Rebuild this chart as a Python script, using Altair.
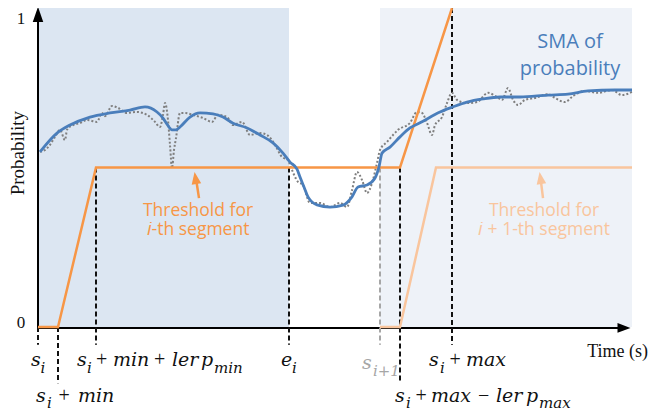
import altair as alt
import pandas as pd

# ---------------- data (time units, probability) ----------------
sma_t = [2, 19, 32, 52, 72, 92, 107, 119, 125, 129, 134, 138, 142, 152, 162, 175, 185, 195, 209, 222,
         235, 245, 252, 259, 262, 266, 270, 279, 292, 305, 314, 320, 329, 337, 341, 344, 352, 362, 372,
         382, 402, 415, 429, 445, 462, 482, 510, 530, 550, 577, 594]
sma_p = [0.549, 0.608, 0.633, 0.658, 0.671, 0.680, 0.690, 0.674, 0.655, 0.636, 0.618, 0.618, 0.627, 0.658,
         0.671, 0.668, 0.658, 0.639, 0.624, 0.602, 0.577, 0.545, 0.517, 0.495, 0.470, 0.439, 0.408, 0.383,
         0.376, 0.382, 0.408, 0.439, 0.445, 0.467, 0.502, 0.545, 0.564, 0.596, 0.624, 0.640, 0.674, 0.690,
         0.705, 0.715, 0.721, 0.721, 0.727, 0.730, 0.740, 0.743, 0.743]

raw_t = [2, 7, 12, 17, 22, 27, 29, 35, 42, 49, 59, 64, 67, 74, 80, 89, 99, 109, 117, 122, 125, 127, 130,
         132, 134, 136, 138, 142, 147, 155, 165, 174, 180, 189, 195, 204, 212, 222, 229, 237, 244, 250, 252,
         260, 265, 272, 282, 292, 302, 309, 314, 319, 324, 329, 334, 339, 342, 349, 355, 360, 372, 379, 384,
         389, 394, 397, 404, 409, 414, 419, 429, 439, 450, 459, 464, 470, 475, 480, 487, 497, 510, 517, 527,
         535, 547, 560, 574, 584, 594]
raw_p = [0.549, 0.555, 0.571, 0.596, 0.618, 0.586, 0.618, 0.633, 0.639, 0.649, 0.643, 0.671, 0.661, 0.693,
         0.687, 0.671, 0.674, 0.665, 0.643, 0.627, 0.665, 0.702, 0.649, 0.571, 0.498, 0.555, 0.592, 0.671,
         0.671, 0.665, 0.655, 0.643, 0.665, 0.658, 0.633, 0.643, 0.602, 0.608, 0.602, 0.571, 0.533, 0.524,
         0.508, 0.455, 0.445, 0.389, 0.389, 0.376, 0.389, 0.376, 0.429, 0.486, 0.461, 0.420, 0.451, 0.514,
         0.555, 0.580, 0.602, 0.618, 0.640, 0.674, 0.671, 0.640, 0.602, 0.633, 0.658, 0.702, 0.734, 0.712,
         0.702, 0.705, 0.734, 0.721, 0.712, 0.749, 0.712, 0.696, 0.712, 0.718, 0.730, 0.718, 0.705, 0.724,
         0.740, 0.734, 0.743, 0.727, 0.737]

thr_t = [0, 20, 58, 362, 414]
thr_p = [0.0, 0.0, 0.5, 0.5, 1.0]
thr2_t = [342, 362, 398, 594]
thr2_p = [0.0, 0.0, 0.5, 0.5]

shade_t0 = [0, 342]
shade_t1 = [251, 594]
shade_col = ["#dce6f2", "#eef2f8"]

vl_t = [0, 20, 58, 251, 342, 362, 414]
vl_top = [0.0, 0.0, 0.5, 0.5, 0.5, 0.5, 1.0]
vl_bot = [-0.056, -0.176, -0.056, -0.056, -0.056, -0.176, -0.056]
vl_col = ["#111111", "#111111", "#111111", "#111111", "#a6a6a6", "#111111", "#111111"]

# math tick labels, token by token: (text, left position, baseline, role, colour)
R1, R1S = -0.1238, -0.1442      # first row: main / subscript baseline
R1G, R1GS = -0.1317, -0.1536    # grey label sits a little lower
R2, R2S = -0.2351, -0.2539      # second row
K, G = "#111111", "#a6a6a6"
tok_text = ["s", "i",
            "s", "i", "+", "min", "+", "ler", "p", "min",
            "e", "i",
            "s", "i+1",
            "s", "i", "+", "max",
            "s", "i", "+", "min",
            "s", "i", "+", "max", "−", "ler", "p", "max"]
tok_t = [-7, 2.5,
         39, 49, 58, 75, 116, 134, 163, 176,
         243, 254,
         324, 335,
         391, 402, 411.5, 428,
         -2, 9, 20.5, 40,
         357, 368, 377.5, 393, 440, 458, 488, 501]
tok_p = [R1, R1S,
         R1, R1S, R1, R1, R1, R1, R1, R1S,
         R1, R1S,
         R1G, R1GS,
         R1, R1S, R1, R1,
         R2, R2S, R2, R2,
         R2, R2S, R2, R2, R2, R2, R2, R2S]
tok_role = ["m", "s",
            "m", "s", "o", "m", "o", "m", "m", "s",
            "m", "s",
            "m", "s",
            "m", "s", "o", "m",
            "m", "s", "o", "m",
            "m", "s", "o", "m", "o", "m", "m", "s"]
tok_col = [K, K, K, K, K, K, K, K, K, K, K, K, G, G, K, K, K, K, K, K, K, K, K, K, K, K, K, K, K, K]

# ---------------- scales ----------------
xs = alt.Scale(domain=[-30, 611], nice=False, zero=False)
ys = alt.Scale(domain=[-0.2696, 1.0], nice=False, zero=False)
X = lambda f: alt.X(f, type="quantitative", scale=xs, axis=None)
Y = lambda f: alt.Y(f, type="quantitative", scale=ys, axis=None)

shade = alt.Chart(pd.DataFrame({"t0": shade_t0, "t1": shade_t1, "p0": [0, 0], "p1": [1.0, 1.0],
                                "c": shade_col})).mark_rect().encode(
    x=X("t0"), x2="t1", y=Y("p0"), y2="p1", color=alt.Color("c:N", scale=None))

axes_df = pd.DataFrame({"t0": [0, 0], "t1": [0, 582], "p0": [0, -0.003], "p1": [0.96, -0.003]})
axes = alt.Chart(axes_df).mark_rule(color="#000000", strokeWidth=2).encode(
    x=X("t0"), x2="t1", y=Y("p0"), y2="p1")

arrow_up = alt.Chart(pd.DataFrame({"t": [0], "p": [0.98]})).mark_point(
    shape="M0,-1L0.7,1L-0.7,1Z", filled=True, size=225, color="#000000", opacity=1).encode(x=X("t"), y=Y("p"))
arrow_right = alt.Chart(pd.DataFrame({"t": [586], "p": [-0.003]})).mark_point(
    shape="M1,0L-1,-0.75L-1,0.75Z", filled=True, size=169, color="#000000", opacity=1).encode(x=X("t"), y=Y("p"))

vlines = alt.Chart(pd.DataFrame({"t": vl_t, "top": vl_top, "bot": vl_bot, "c": vl_col})).mark_rule(
    strokeWidth=2, strokeDash=[5, 3]).encode(x=X("t"), y=Y("top"), y2="bot", color=alt.Color("c:N", scale=None))

raw = alt.Chart(pd.DataFrame({"t": raw_t, "p": raw_p})).mark_line(
    color="#7f7f7f", strokeWidth=2, strokeDash=[2, 2], interpolate="monotone").encode(x=X("t"), y=Y("p"))

thr2 = alt.Chart(pd.DataFrame({"t": thr2_t, "p": thr2_p})).mark_line(
    color="#f9c59d", strokeWidth=2.5).encode(x=X("t"), y=Y("p"))
thr = alt.Chart(pd.DataFrame({"t": thr_t, "p": thr_p})).mark_line(
    color="#f79646", strokeWidth=2.5).encode(x=X("t"), y=Y("p"))

sma = alt.Chart(pd.DataFrame({"t": sma_t, "p": sma_p})).mark_line(
    color="#4a7ebb", strokeWidth=2.8, interpolate="monotone").encode(x=X("t"), y=Y("p"))

# annotation arrows
shaft_df = pd.DataFrame({"t0": [161, 505], "t1": [158.5, 503], "p0": [0.404, 0.404], "p1": [0.455, 0.455],
                         "c": ["#f79646", "#f9c59d"]})
shafts = alt.Chart(shaft_df).mark_rule(strokeWidth=2.5).encode(
    x=X("t0"), x2="t1", y=Y("p0"), y2="p1", color=alt.Color("c:N", scale=None))
heads = alt.Chart(pd.DataFrame({"t": [157.5, 502.5], "p": [0.467, 0.467], "c": ["#f79646", "#f9c59d"]})).mark_point(
    shape="M0,-1L0.8,1L-0.8,1Z", filled=True, size=144, opacity=1, angle=351).encode(
    x=X("t"), y=Y("p"), color=alt.Color("c:N", scale=None))

# texts
serif = "Liberation Serif"
mathf = "DejaVu Serif"
sans = "Open Sans"
txt_axis = alt.Chart(pd.DataFrame({"t": [-17, -17], "p": [0.950, -0.003], "s": ["1", "0"]})).mark_text(
    font=serif, fontSize=17, color="#111111", align="center", baseline="alphabetic").encode(
    x=X("t"), y=Y("p"), text="s:N")
txt_prob = alt.Chart(pd.DataFrame({"t": [-20], "p": [0.545], "s": ["Probability"]})).mark_text(
    font=serif, fontSize=19, color="#111111", align="center", baseline="middle", angle=270).encode(
    x=X("t"), y=Y("p"), text="s:N")
txt_time = alt.Chart(pd.DataFrame({"t": [610], "p": [-0.094], "s": ["Time (s)"]})).mark_text(
    font=serif, fontSize=18, color="#111111", align="right", baseline="alphabetic").encode(
    x=X("t"), y=Y("p"), text="s:N")

tok = pd.DataFrame({"t": tok_t, "p": tok_p, "s": tok_text, "r": tok_role, "c": tok_col})
tok["fs"] = tok["r"].map({"m": 19, "s": 15, "o": 20})
txt_math = alt.Chart(tok[tok["r"] != "o"]).mark_text(
    font=mathf, fontStyle="italic", align="left", baseline="alphabetic").encode(
    x=X("t"), y=Y("p"), text="s:N", size=alt.Size("fs:Q", scale=None),
    color=alt.Color("c:N", scale=None))
txt_ops = alt.Chart(tok[tok["r"] == "o"]).mark_text(
    font=serif, align="left", baseline="alphabetic").encode(
    x=X("t"), y=Y("p"), text="s:N", size=alt.Size("fs:Q", scale=None),
    color=alt.Color("c:N", scale=None))

txt_sma = alt.Chart(pd.DataFrame({"t": [532, 532], "p": [0.875, 0.790], "s": ["SMA  of", "probability"]})).mark_text(
    font=sans, fontSize=20, color="#4a7ebb", align="center", baseline="alphabetic").encode(
    x=X("t"), y=Y("p"), text="s:N")
txt_thr = alt.Chart(pd.DataFrame({"t": [160, 160, 506, 506], "p": [0.348, 0.288, 0.348, 0.288],
                                  "s": ["Threshold for", "𝑖-th segment", "Threshold for", "𝑖 + 1-th segment"],
                                  "c": ["#f79646", "#f79646", "#f9c59d", "#f9c59d"]})).mark_text(
    font=sans, fontSize=17.5, align="center", baseline="alphabetic").encode(
    x=X("t"), y=Y("p"), text="s:N", color=alt.Color("c:N", scale=None))

chart = alt.layer(shade, axes, vlines, raw, thr2, thr, sma, arrow_up, arrow_right, shafts, heads,
                  txt_axis, txt_prob, txt_time, txt_math, txt_ops, txt_sma, txt_thr).properties(
    width=641, height=405, autosize=alt.AutoSizeParams(type="none"), padding=0
).configure_view(strokeWidth=0)

chart.save("out.html", embed_options={"renderer": "svg", "actions": False})
